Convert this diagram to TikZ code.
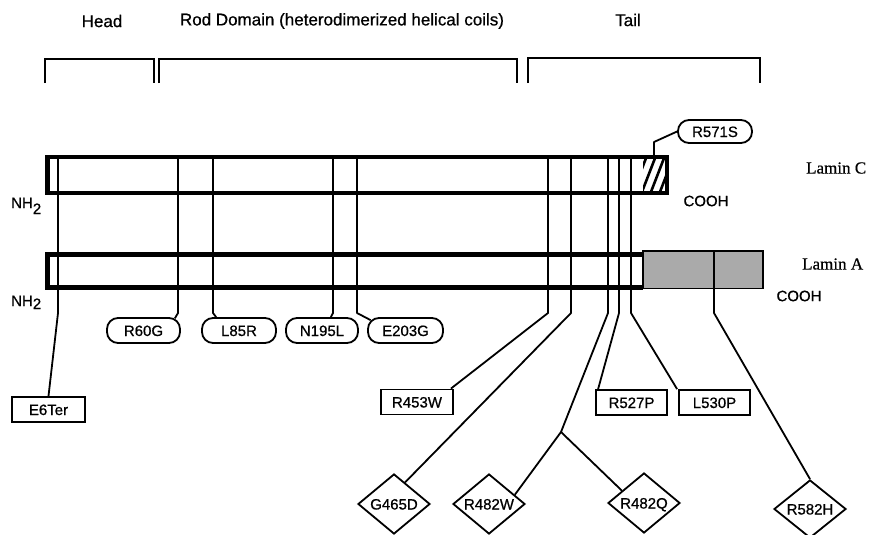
\documentclass[tikz,border=0pt]{standalone}
\usepackage{fontspec}
\setmainfont[FakeBold=0.7]{Liberation Sans}
\newfontfamily\laminfont[FakeBold=0.5]{Liberation Serif}
\usetikzlibrary{shapes.geometric,calc}
\definecolor{lamgray}{RGB}{170,170,170}
\begin{document}
\begin{tikzpicture}[x=1pt,y=-1pt,
  lab/.style={font=\fontsize{15}{15}\selectfont, inner sep=0pt, line width=1.8pt, draw, text height=11pt, text depth=0pt},
  rbox/.style={lab, rounded corners=11pt, minimum height=25pt},
  sbox/.style={lab, minimum height=25pt},
  dbox/.style={lab, diamond, aspect=1.2, minimum width=72pt, minimum height=60pt},
  conn/.style={line width=1.8pt, line join=round},
  bracket/.style={line width=2pt},
  bar/.style={line width=4.6pt},
  hdr/.style={font=\fontsize{17}{17}\selectfont, inner sep=0pt},
  txt/.style={font=\fontsize{15}{15}\selectfont, inner sep=0pt},
  lamin/.style={font=\laminfont\fontsize{17}{17}\selectfont, inner sep=0pt, anchor=west}]
\useasboundingbox (0,0) rectangle (870,535);
\fill[white] (0,0) rectangle (870,535);

% headers
\node[hdr] (head) at (102,21) {Head};
\node[hdr] (rod) at (342,21) {Rod Domain (heterodimerized helical coils)};
\node[hdr] (tail) at (628,20) {Tail};
\draw[bracket] (45,83) -- (45,59) -- (154,59) -- (154,83);
\draw[bracket] (159,83) -- (159,59) -- (517,59) -- (517,83);
\draw[bracket] (528,83) -- (528,58) -- (760,58) -- (760,83);

% Lamin C bar
\begin{scope}
  \clip (643,157) rectangle (667,193);
  \foreach \x in {622,631,640,649,658,667} {
    \draw[line width=2.6pt] (\x,197) -- (\x+17,153);
  }
\end{scope}
\draw[bar] (47.3,157) rectangle (667,193);

% Lamin A bar
\draw[line width=1.5pt, fill=lamgray] (643,251) rectangle (763,288.5);
\draw[bar] (643,254.5) -- (47.3,254.5) -- (47.3,287.5) -- (643,287.5);

% labels
\node[txt, anchor=base west] (nh1) at (11,208) {NH\raisebox{-6pt}{2}};
\node[txt, anchor=base west] (nh2) at (11,306) {NH\raisebox{-3pt}{2}};
\node[txt] (cooh1) at (706,201) {COOH};
\node[txt] (cooh2) at (799,296) {COOH};
\node[lamin] (lamC) at (806,168) {Lamin C};
\node[lamin] (lamA) at (802,264) {Lamin A};

% mutation nodes
\node[rbox, minimum width=73pt] (R60G) at (143.5,330.5) {R60G};
\node[rbox, minimum width=74pt] (L85R) at (239,330.5) {L85R};
\node[rbox, minimum width=72pt] (N195L) at (322,330.5) {N195L};
\node[rbox, minimum width=75pt] (E203G) at (405.5,330.5) {E203G};
\node[rbox, minimum width=74pt, minimum height=23pt] (R571S) at (715,131.5) {R571S};
\node[sbox, minimum width=73pt] (E6Ter) at (48.5,409.5) {E6Ter};
\node[sbox, minimum width=72pt] (R453W) at (417,402) {R453W};
\node[sbox, minimum width=71pt] (R527P) at (631.5,402.5) {R527P};
\node[sbox, minimum width=71pt] (L530P) at (714.5,402.5) {L530P};
\node[dbox] (G465D) at (394,504) {G465D};
\node[dbox] (R482W) at (489,504) {R482W};
\node[dbox] (R482Q) at (644,503) {R482Q};
\node[dbox, minimum height=58pt] (R582H) at (810,509) {R582H};

% connector coordinates
\foreach \x in {58,178,213,333,357,548,571,608,619,631} {
  \coordinate (t\x) at (\x,157);
  \coordinate (k\x) at (\x,313);
}
\coordinate (t714) at (714,252);
\coordinate (k714) at (714,313);
\coordinate (t654) at (654,157);
\coordinate (k654) at (654,142);
\coordinate (br) at (561,432);

% connectors
\draw[conn] (t58) -- (k58) -- (E6Ter.north);
\draw[conn] (t178) -- (k178) -- ($(R60G.north east)+(-6,1.2)$);
\draw[conn] (t213) -- (k213) -- ($(L85R.north west)+(15,0)$);
\draw[conn] (t333) -- (k333) -- ($(N195L.north east)+(-28,0)$);
\draw[conn] (t357) -- (k357) -- ($(E203G.north west)+(3.5,3)$);
\draw[conn] (t548) -- (k548) -- ($(R453W.north east)+(-3,0)$);
\draw[conn] (t571) -- (k571) -- ($(G465D.north)!0.3!(G465D.east)$);
\draw[conn] (t608) -- (k608) -- (br);
\draw[conn] (br) -- ($(R482W.north)!0.7!(R482W.east)$);
\draw[conn] (br) -- ($(R482Q.north)!0.6!(R482Q.west)$);
\draw[conn] (t619) -- (k619) -- ($(R527P.north west)+(3,0)$);
\draw[conn] (t631) -- (k631) -- ($(L530P.north west)+(-1,0)$);
\draw[conn] (t714) -- (k714) -- (R582H.north);
\draw[conn] (t654) -- (k654) -- (R571S.west);
\end{tikzpicture}
\end{document}
